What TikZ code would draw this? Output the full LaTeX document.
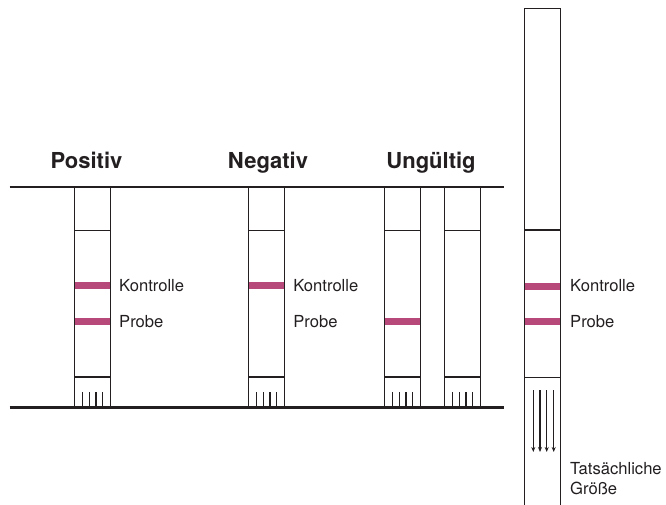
\documentclass[tikz,border=0pt]{standalone}
\usepackage{fontspec}
\setmainfont{TeX Gyre Heros}
\usetikzlibrary{arrows.meta}
\definecolor{banda}{RGB}{183,72,122}
\definecolor{tratto}{RGB}{35,31,32}
\begin{document}
\begin{tikzpicture}[x=1pt,y=-1pt,line join=miter,
    striscia/.style={draw=tratto,line width=1.5pt},
    piano/.style={draw=tratto,line width=2.2pt},
    tacca/.style={draw=tratto,line width=1.2pt},
    titolo/.style={font=\fontsize{22}{26}\selectfont\bfseries,text=tratto,inner sep=0pt,anchor=base},
    etichetta/.style={font=\fontsize{16.6}{19.5}\selectfont,text=tratto,inner sep=0pt,anchor=base west}]

  \useasboundingbox (0,0) rectangle (666,505);

  % ---- i due piani (sopra e sotto le strisce) ------------------------------
  \draw[piano] (9.5,187) -- (503.5,187);
  \draw[piano] (9.5,407.5) -- (503.5,407.5);

  % ---- le quattro strisce di esempio -------------------------------------
  \foreach \xs in {74.7,248.7,384.7,444.7}{
    \draw[striscia] (\xs,187) rectangle ++(36,220.5);
    \draw[striscia] (\xs,230.7) -- ++(36,0);
    \draw[striscia] (\xs,377) -- ++(36,0);
    \foreach \d in {8,14.7,21.3,28}
      \draw[tacca] (\xs+\d,392) -- (\xs+\d,407);
  }

  % bande colorate (controllo e campione)
  \fill[banda] ( 75.4,281.8) rectangle (110.1,288.8);
  \fill[banda] ( 75.4,318.2) rectangle (110.1,325.2);
  \fill[banda] (249.4,281.8) rectangle (284.1,288.8);
  \fill[banda] (385.4,318.2) rectangle (420.1,325.2);

  % ---- striscia in grandezza reale (a destra) ------------------------------
  \draw[striscia] (524.7,506) -- (524.7,8.3) -- (560.7,8.3) -- (560.7,506);
  \draw[striscia] (524.7,230.2) -- (560.7,230.2);
  \draw[striscia] (524.7,377.5) -- (560.7,377.5);
  \fill[banda] (525.4,282.5) rectangle (560.1,289.5);
  \fill[banda] (525.4,318.2) rectangle (560.1,325.2);
  \foreach \d in {8.6,15.3,22,29}
    \draw[tacca,-{Stealth[length=5pt,width=4pt]}] (524.7+\d,390) -- (524.7+\d,452);

  % ---- titoli -------------------------------------------------------------
  \node[titolo] (positiv) at (86.5,168) {Positiv};
  \node[titolo] (negativ) at (268,168) {Negativ};
  \node[titolo] (ungueltig) at (431,168) {Ungültig};

  % ---- etichette ----------------------------------------------------------
  \node[etichetta] (kontrolleA) at (119,291.2) {Kontrolle};
  \node[etichetta] (probeA) at (119,327.6) {Probe};
  \node[etichetta] (kontrolleB) at (293.2,291.2) {Kontrolle};
  \node[etichetta] (probeB) at (293.2,327.6) {Probe};
  \node[etichetta] (kontrolleC) at (570,291.2) {Kontrolle};
  \node[etichetta] (probeC) at (570,327.6) {Probe};
  \node[etichetta] (tats) at (570,474.5) {Tatsächliche};
  \node[etichetta] (groesse) at (570,494) {Größe};

\end{tikzpicture}
\end{document}
